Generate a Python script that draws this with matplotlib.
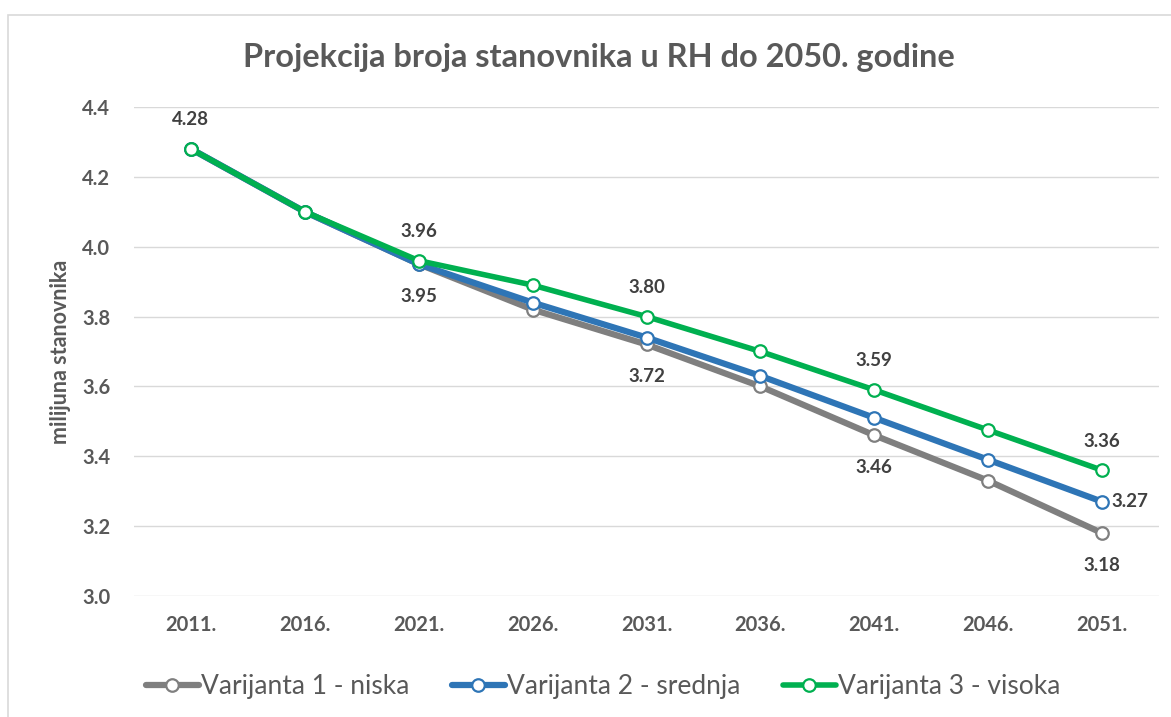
import matplotlib.pyplot as plt

plt.rcParams['font.family'] = ['Lato', 'DejaVu Sans']

# Data
years = ['2011.', '2016.', '2021.', '2026.', '2031.', '2036.', '2041.', '2046.', '2051.']
niska = [4.28, 4.10, 3.95, 3.82, 3.72, 3.60, 3.46, 3.33, 3.18]
srednja = [4.28, 4.10, 3.95, 3.84, 3.74, 3.63, 3.51, 3.39, 3.27]
visoka = [4.28, 4.10, 3.96, 3.89, 3.80, 3.70, 3.59, 3.475, 3.36]
series_names = ['Varijanta 1 - niska', 'Varijanta 2 - srednja', 'Varijanta 3 - visoka']

# which points get a label, and where
labels_above = [0, 2, 4, 6, 8]   # visoka
labels_below = [2, 4, 6, 8]      # niska
labels_right = [8]               # srednja

txt = '#595959'
fig = plt.figure(figsize=(11.71, 7.17), dpi=100)
ax = fig.add_axes([0.1144, 0.1688, 0.8754, 0.682])

x = list(range(len(years)))
styles = [(niska, '#7f7f7f', 4.5), (srednja, '#2e75b6', 4.5), (visoka, '#00b050', 4.0)]
for (vals, col, lw), name in zip(styles, series_names):
    ax.plot(x, vals, color=col, lw=lw, marker='o', ms=9, mfc='white',
            mec=col, mew=1.6, label=name, solid_capstyle='round')

lab_kw = dict(textcoords='offset points', va='center', fontsize=13.5,
              fontweight='bold', color='#404040')
for i in labels_above:
    ax.annotate(f'{visoka[i]:.2f}', (i, visoka[i]), xytext=(0, 21), ha='center', **lab_kw)
for i in labels_below:
    ax.annotate(f'{niska[i]:.2f}', (i, niska[i]), xytext=(0, -23), ha='center', **lab_kw)
for i in labels_right:
    ax.annotate(f'{srednja[i]:.2f}', (i, srednja[i]), xytext=(7, 0), ha='left', **lab_kw)

ax.set_xlim(-0.5, len(years) - 0.5)
ax.set_ylim(3.0, 4.4)
ax.set_yticks([3.0, 3.2, 3.4, 3.6, 3.8, 4.0, 4.2, 4.4])
ax.yaxis.set_major_formatter(plt.FormatStrFormatter('%.1f'))
ax.set_xticks(x)
ax.set_xticklabels(years)
ax.tick_params(length=0, labelsize=14.5, labelcolor=txt, pad=14)
ax.tick_params(axis='y', pad=17)
for lab in ax.get_xticklabels() + ax.get_yticklabels():
    lab.set_fontweight('bold')
ax.grid(axis='y', color='#d9d9d9', lw=1)
ax.set_axisbelow(True)
for s in ax.spines.values():
    s.set_visible(False)

ax.set_ylabel('milijuna stanovnika', fontsize=15.5, fontweight='bold', color=txt, labelpad=8)
fig.text(0.511, 0.92, 'Projekcija broja stanovnika u RH do 2050. godine',
         ha='center', va='center', fontsize=23.4, fontweight='bold', color=txt)

leg = ax.legend(loc='upper center', bbox_to_anchor=(0.458, -0.112), ncol=3, frameon=False,
                fontsize=19, handlelength=2.0, handletextpad=0.1, columnspacing=1.6)
for t in leg.get_texts():
    t.set_color(txt)

# chart frame
fig.patches.append(plt.Rectangle((8 / 1171, -0.01), 1.1, 1 - 15 / 717 + 0.01,
                                 transform=fig.transFigure, fill=False,
                                 edgecolor='#d9d9d9', lw=1.2))

fig.savefig('out.png', dpi=100)
